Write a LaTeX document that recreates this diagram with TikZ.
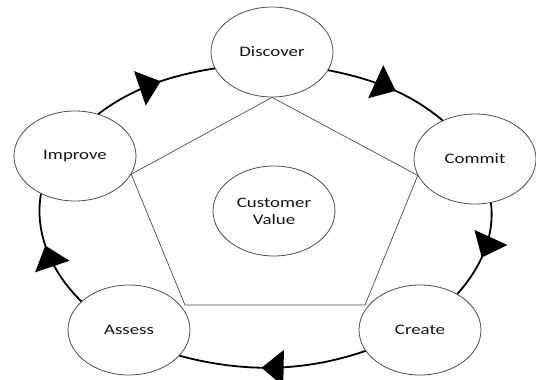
\documentclass[tikz,border=0pt]{standalone}
\usepackage{fontspec}
\setmainfont{Carlito}[FakeStretch=1.3]
\usetikzlibrary{shapes.geometric}
\usetikzlibrary{arrows.meta}
\usetikzlibrary{decorations.markings}
\definecolor{lineGray}{rgb}{0.3,0.3,0.3}
\definecolor{textColor}{rgb}{0.08,0.08,0.08}

\begin{document}
\begin{tikzpicture}[x=1pt,y=1pt]

          \tikzstyle{stageNode} = [ellipse, draw=lineGray, line width=0.8pt, fill=white, text=textColor, minimum width=122pt, minimum height=90pt, inner sep=0pt, align=center, font=\fontsize{14.5}{17}\selectfont];
          \tikzstyle{cycleEdge} = [line width=1.8pt, looseness=0.9, postaction={decorate}, decoration={markings, mark=at position 0.56 with {\arrow{Triangle[length=22pt,width=36pt]}}}];
          \tikzstyle{pentEdge} = [lineGray, line width=0.7pt];

          \useasboundingbox (0,0) rectangle (536,380);

          \node[stageNode] (discover) at (272,328) {Discover};
          \node[stageNode] (commit) at (475,221) {Commit};
          \node[stageNode] (create) at (420,50) {Create};
          \node[stageNode] (assess) at (129,50) {Assess};
          \node[stageNode] (improve) at (75,224) {Improve};
          \node[stageNode] (value) at (274,169) {Customer\\Value};

          \coordinate (pentRight) at (365,75);
          \coordinate (pentLeft) at (185,75);

          \draw[pentEdge] (discover.south) -- (commit.196) -- (pentRight) -- (pentLeft) -- (improve.-18) -- cycle;

          \draw[cycleEdge] (discover.-18) to[out=-11, in=140] (commit.130);
          \draw[cycleEdge] (commit.-70) to[out=-83, in=48] (create.44);
          \draw[cycleEdge] (create.201) to[out=199, in=-15] (assess.-27);
          \draw[cycleEdge] (assess.149) to[out=136, in=260] (improve.228);
          \draw[cycleEdge] (improve.61) to[out=37, in=189] (discover.196);
        \end{tikzpicture}
\end{document}
